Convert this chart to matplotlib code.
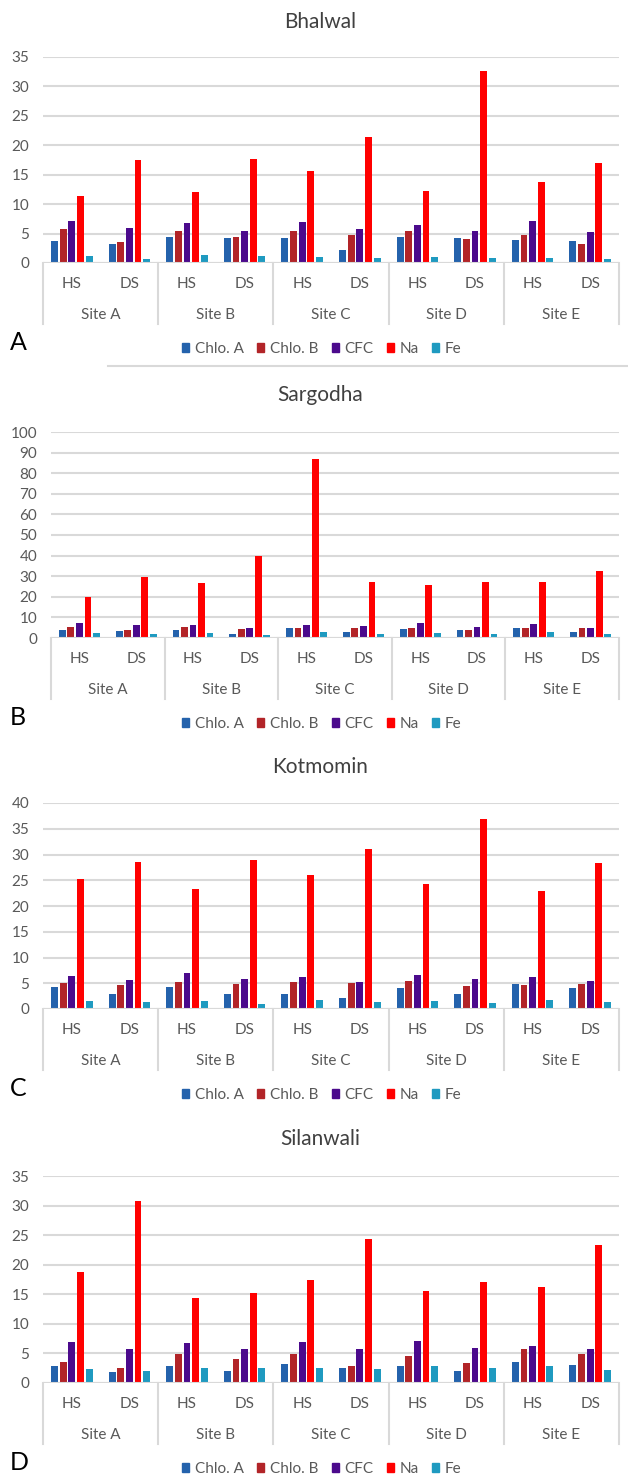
import matplotlib.pyplot as plt
import matplotlib.transforms as mtransforms
from matplotlib.lines import Line2D
from matplotlib.patches import Patch
import numpy as np

plt.rcParams['font.family'] = ['Lato', 'DejaVu Sans']

series = ['Chlo. A', 'Chlo. B', 'CFC', 'Na', 'Fe']
colors = ['#2462AC', '#B22428', '#4B0A8C', '#FF0000', '#1F9AC0']
seasons = ['HS', 'DS']
sites = ['Site A', 'Site B', 'Site C', 'Site D', 'Site E']

# values per series, ordered A-HS, A-DS, B-HS, B-DS, ... E-DS
bhalwal = {
    'Chlo. A': [3.8, 3.3, 4.4, 4.2, 4.2, 2.2, 4.5, 4.2, 3.9, 3.8],
    'Chlo. B': [5.7, 3.5, 5.4, 4.5, 5.5, 4.8, 5.4, 4.0, 4.8, 3.3],
    'CFC':     [7.1, 5.9, 6.8, 5.5, 7.0, 5.7, 6.5, 5.5, 7.2, 5.2],
    'Na':      [11.3, 17.5, 12.0, 17.6, 15.6, 21.4, 12.3, 32.7, 13.8, 17.0],
    'Fe':      [1.2, 0.7, 1.3, 1.2, 1.0, 0.9, 1.0, 0.9, 0.9, 0.7],
}
sargodha = {
    'Chlo. A': [3.7, 3.4, 3.7, 2.1, 5.0, 2.9, 4.2, 3.7, 5.0, 2.9],
    'Chlo. B': [5.5, 3.7, 5.5, 4.2, 4.7, 4.7, 4.7, 3.7, 4.7, 4.7],
    'CFC':     [7.4, 6.3, 6.3, 5.0, 6.3, 5.8, 7.1, 5.5, 6.6, 5.0],
    'Na':      [19.9, 29.4, 26.5, 39.8, 87.1, 27.0, 25.7, 27.0, 27.0, 32.7],
    'Fe':      [2.6, 2.1, 2.6, 1.3, 2.9, 1.8, 2.6, 2.1, 2.9, 1.8],
}
kotmomin = {
    'Chlo. A': [4.3, 3.0, 4.3, 3.0, 3.0, 2.2, 4.0, 3.0, 4.8, 4.1],
    'Chlo. B': [5.0, 4.6, 5.2, 4.8, 5.3, 5.0, 5.5, 4.5, 4.6, 4.8],
    'CFC':     [6.5, 5.7, 7.0, 5.8, 6.3, 5.2, 6.6, 5.8, 6.3, 5.5],
    'Na':      [25.2, 28.6, 23.3, 28.9, 26.1, 31.0, 24.3, 36.8, 23.0, 28.4],
    'Fe':      [1.5, 1.4, 1.5, 1.0, 1.7, 1.4, 1.5, 1.2, 1.7, 1.4],
}
silanwali = {
    'Chlo. A': [2.8, 1.9, 2.9, 2.1, 3.2, 2.6, 2.9, 2.0, 3.6, 3.1],
    'Chlo. B': [3.6, 2.6, 4.9, 4.1, 4.9, 2.9, 4.6, 3.4, 5.8, 4.9],
    'CFC':     [7.0, 5.8, 6.7, 5.7, 7.0, 5.7, 7.1, 5.9, 6.2, 5.8],
    'Na':      [18.8, 30.8, 14.3, 15.2, 17.4, 24.3, 15.5, 17.0, 16.3, 23.4],
    'Fe':      [2.3, 2.0, 2.5, 2.6, 2.6, 2.3, 2.9, 2.6, 2.8, 2.2],
}

W, H = 628, 1476
fig = plt.figure(figsize=(W / 100, H / 100), dpi=100)
fig.patch.set_facecolor('white')

grid_c = '#D9D9D9'
text_c = '#595959'


def fy(y):
    # pixel row (from top) -> figure fraction
    return 1 - y / H


def panel(data, title, letter, ymax, step, left, y_top, y_zero, title_y):
    ax = fig.add_axes([left / W, fy(y_zero), (619 - left) / W, (y_zero - y_top) / H])
    n = len(sites) * len(seasons)
    x = np.arange(n) + 0.5
    pitch, width = 0.15, 0.12
    for k, s in enumerate(series):
        ax.bar(x + (k - 2) * pitch, data[s], width=width, color=colors[k], zorder=3)
    ax.set_xlim(0, n)
    ax.set_ylim(0, ymax)
    ax.set_yticks(np.arange(0, ymax + 1, step))
    ax.tick_params(axis='y', length=0, pad=10, labelsize=11, labelcolor=text_c)
    ax.set_xticks([])
    ax.grid(axis='y', color=grid_c, linewidth=1.5, zorder=0)
    for sp in ax.spines.values():
        sp.set_visible(False)
    ax.axhline(0, color=grid_c, linewidth=1.5, zorder=4)

    # two-level category axis below the plot
    tr = mtransforms.blended_transform_factory(ax.transData, fig.transFigure)
    for i in range(n):
        ax.text(x[i], fy(y_zero + 21), seasons[i % 2], transform=tr,
                ha='center', va='center', fontsize=11, color=text_c)
    for j, site in enumerate(sites):
        ax.text(2 * j + 1, fy(y_zero + 52), site, transform=tr,
                ha='center', va='center', fontsize=11, color=text_c)
    for j in range(len(sites) + 1):
        ax.add_line(Line2D([2 * j, 2 * j], [fy(y_zero), fy(y_zero + 61)],
                           transform=tr, color=grid_c, linewidth=1.5, clip_on=False))

    fig.text(320 / W, fy(title_y), title, ha='center', va='center',
             fontsize=15, color='#404040')
    fig.text(10 / W, fy(y_zero + 79), letter, ha='left', va='center',
             fontsize=18, color='black')
    handles = [Patch(color=c) for c in colors]
    fig.legend(handles, series, loc='center', bbox_to_anchor=(322 / W, fy(y_zero + 86)),
               ncol=5, frameon=False, fontsize=11, labelcolor=text_c,
               handlelength=0.45, handleheight=0.45, handletextpad=0.4,
               columnspacing=0.85)
    return ax


panel(bhalwal, 'Bhalwal', 'A', 35, 5, 43, 57, 263, 22)
panel(sargodha, 'Sargodha', 'B', 100, 10, 51, 432, 638, 395)
panel(kotmomin, 'Kotmomin', 'C', 40, 5, 43, 803, 1009, 767)
panel(silanwali, 'Silanwali', 'D', 35, 5, 43, 1176, 1383, 1139)

# thin divider under the first panel
fig.add_artist(Line2D([108 / W, 1], [fy(366), fy(366)], color=grid_c, linewidth=1.5))

fig.savefig('out.png', dpi=100, facecolor='white')
